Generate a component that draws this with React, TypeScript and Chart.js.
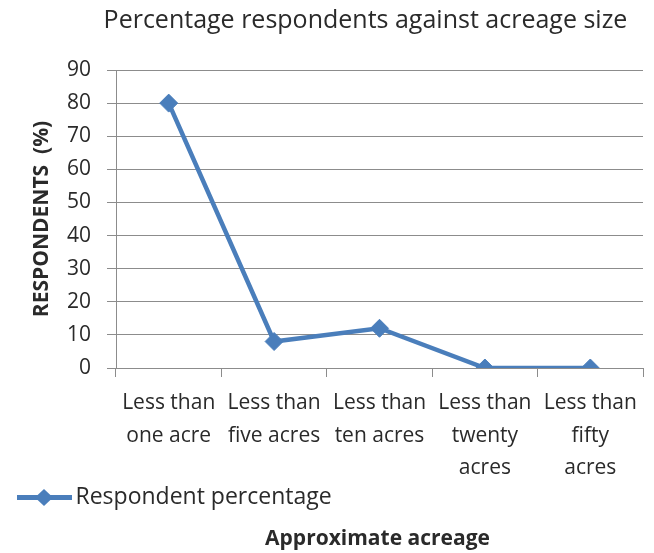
import { useEffect, useRef } from "react";
import { Chart, registerables } from "chart.js";

Chart.register(...registerables);

const categories: string[][] = [
  ["Less than", "one acre"],
  ["Less than", "five acres"],
  ["Less than", "ten acres"],
  ["Less than", "twenty", "acres"],
  ["Less than", "fifty", "acres"],
];
const respondentPercentage: number[] = [80, 8, 12, 0, 0];
const yMin = 0;
const yMax = 90;
const yStep = 10;

const chartTitle = "Percentage respondents against acreage size";
const seriesName = "Respondent percentage";
const xAxisTitle = "Approximate acreage";
const yAxisTitle = "RESPONDENTS  (%)";

const FONT = "'Open Sans', 'Noto Sans', sans-serif";
const SERIES_COLOR = "#4a7ebb";
const GRID_COLOR = "#8c8c8c";
const TEXT_COLOR = "#2a2a2a";

function makeLegendImage(): HTMLCanvasElement {
  const c = document.createElement("canvas");
  c.width = 61;
  c.height = 19;
  const g = c.getContext("2d")!;
  g.strokeStyle = SERIES_COLOR;
  g.lineWidth = 5;
  g.beginPath();
  g.moveTo(4, 9.5);
  g.lineTo(61, 9.5);
  g.stroke();
  g.fillStyle = SERIES_COLOR;
  g.beginPath();
  g.moveTo(33, 1);
  g.lineTo(42, 9.5);
  g.lineTo(33, 18);
  g.lineTo(24, 9.5);
  g.closePath();
  g.fill();
  return c;
}

export default function App() {
  const ref = useRef<HTMLCanvasElement | null>(null);

  useEffect(() => {
    if (!ref.current) return;
    const legendImg = makeLegendImage();

    const textPlugin = {
      id: "extraTexts",
      afterDraw(chart: any) {
        const { ctx, chartArea } = chart;
        const mid = (chartArea.left + chartArea.right) / 2;
        ctx.save();
        ctx.fillStyle = TEXT_COLOR;
        ctx.textAlign = "center";
        ctx.textBaseline = "alphabetic";
        ctx.font = `25px ${FONT}`;
        ctx.fillText(chartTitle, mid - 14, 28);
        ctx.font = `bold 21px ${FONT}`;
        ctx.fillText(xAxisTitle, mid - 2, 545);
        ctx.restore();
      },
    };

    const chart = new Chart(ref.current, {
      type: "line",
      data: {
        labels: categories,
        datasets: [
          {
            label: seriesName,
            data: respondentPercentage,
            borderColor: SERIES_COLOR,
            backgroundColor: SERIES_COLOR,
            borderWidth: 4.5,
            pointStyle: "rectRot",
            pointRadius: 9,
            pointHoverRadius: 9,
            pointBackgroundColor: SERIES_COLOR,
            pointBorderColor: SERIES_COLOR,
            pointBorderWidth: 1,
            tension: 0,
          },
        ],
      },
      options: {
        responsive: false,
        animation: false,
        layout: { padding: { top: 70, right: 11, left: 17, bottom: 34 } },
        plugins: {
          title: { display: false },
          tooltip: { enabled: false },
          legend: {
            display: true,
            position: "bottom",
            align: "start",
            labels: {
              usePointStyle: true,
              pointStyleWidth: 45,
              padding: 2,
              color: TEXT_COLOR,
              font: { family: FONT, size: 23, lineHeight: 1 },
              generateLabels: () => [
                {
                  text: seriesName,
                  pointStyle: legendImg as any,
                  fillStyle: SERIES_COLOR,
                  strokeStyle: SERIES_COLOR,
                  lineWidth: 0,
                  hidden: false,
                  datasetIndex: 0,
                  fontColor: TEXT_COLOR,
                } as any,
              ],
            },
          },
        },
        scales: {
          x: {
            type: "category",
            offset: true,
            grid: {
              display: true,
              drawOnChartArea: false,
              drawTicks: true,
              tickLength: 9,
              offset: true,
              color: GRID_COLOR,
            },
            border: { display: true, color: GRID_COLOR, width: 1 },
            ticks: {
              color: TEXT_COLOR,
              font: { family: FONT, size: 21, lineHeight: 1.55 },
              padding: 10,
              maxRotation: 0,
              minRotation: 0,
              autoSkip: false,
            },
            afterFit: (s: any) => {
              s.height = 116;
            },
          },
          y: {
            min: yMin,
            max: yMax,
            grid: {
              color: GRID_COLOR,
              drawTicks: true,
              tickLength: 9,
            },
            border: { display: true, color: GRID_COLOR, width: 1 },
            ticks: {
              stepSize: yStep,
              color: TEXT_COLOR,
              font: { family: FONT, size: 21 },
              padding: 16,
            },
            title: {
              display: true,
              text: yAxisTitle,
              color: TEXT_COLOR,
              font: { family: FONT, size: 21, weight: "bold" },
              padding: { top: 12, bottom: 0 },
            },
            afterFit: (s: any) => {
              s.width = 99;
            },
          },
        },
      },
      plugins: [textPlugin],
    });

    return () => chart.destroy();
  }, []);

  return (
    <div style={{ position: "absolute", left: 0, top: 0, width: 654, height: 553, background: "#fff" }}>
      <canvas ref={ref} width={654} height={553} />
    </div>
  );
}
